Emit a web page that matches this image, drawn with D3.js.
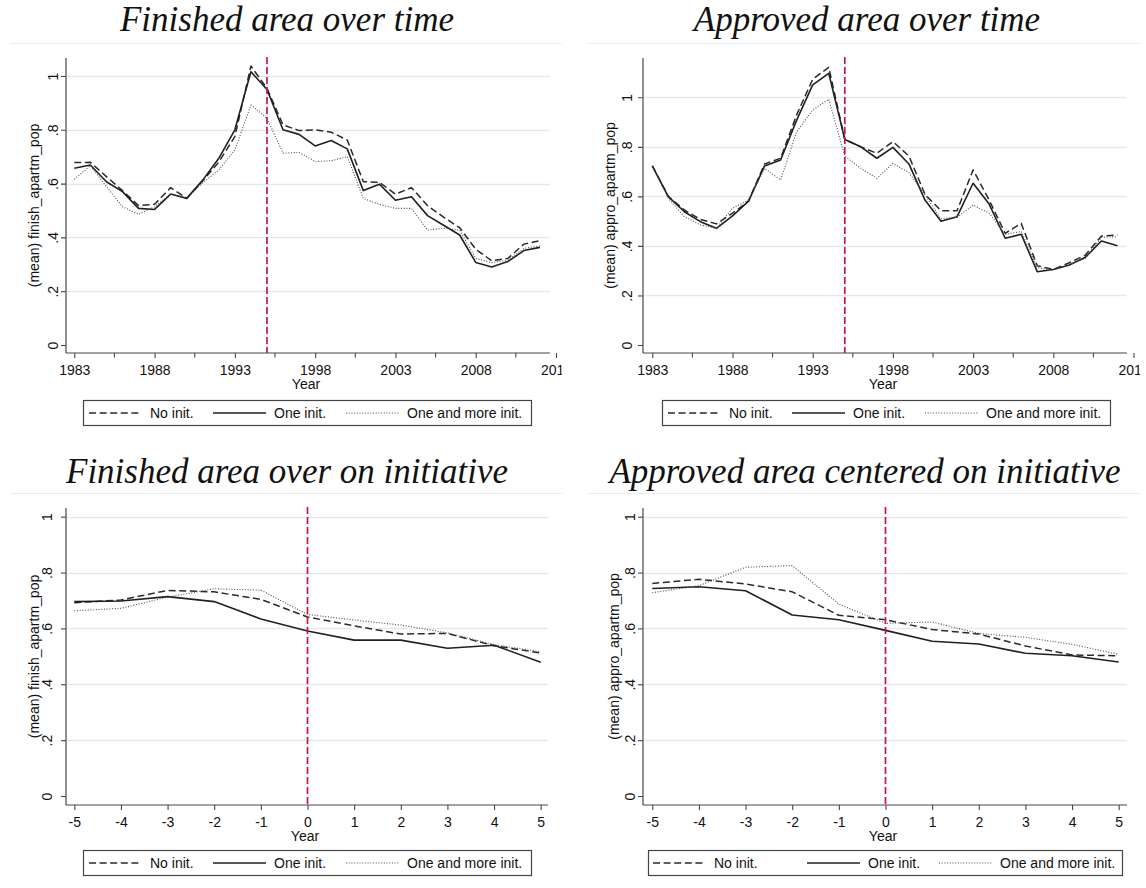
<!DOCTYPE html>
<html>
<head>
<meta charset="utf-8">
<script src="https://cdn.jsdelivr.net/npm/d3@7"></script>
<style>
  body { margin: 0; background: #ffffff; }
  svg { display: block; }
</style>
</head>
<body>
<svg id="fig" width="1146" height="888"></svg>
<script>
// ---- data ---------------------------------------------------------------
const calendarYears = [1983, 1984, 1985, 1986, 1987, 1988, 1989, 1990, 1991, 1992,
                       1993, 1994, 1995, 1996, 1997, 1998, 1999, 2000, 2001, 2002,
                       2003, 2004, 2005, 2006, 2007, 2008, 2009, 2010, 2011, 2012];
const relativeYears = [-5, -4, -3, -2, -1, 0, 1, 2, 3, 4, 5];

const seriesNames = ["No init.", "One init.", "One and more init."];

// Finished apartment area per population, by calendar year
const finishedNoInit   = [0.678, 0.679, 0.626, 0.574, 0.518, 0.523, 0.585, 0.545, 0.611, 0.680,
                          0.775, 1.037, 0.954, 0.818, 0.797, 0.800, 0.791, 0.762, 0.607, 0.605,
                          0.561, 0.585, 0.518, 0.475, 0.436, 0.356, 0.313, 0.322, 0.375, 0.388];
const finishedOneInit  = [0.657, 0.669, 0.607, 0.570, 0.508, 0.504, 0.561, 0.545, 0.613, 0.694,
                          0.800, 1.016, 0.950, 0.800, 0.783, 0.740, 0.760, 0.729, 0.574, 0.598,
                          0.538, 0.551, 0.481, 0.445, 0.409, 0.307, 0.290, 0.310, 0.351, 0.363];
const finishedMoreInit = [0.616, 0.667, 0.589, 0.514, 0.486, 0.514, 0.561, 0.545, 0.603, 0.651,
                          0.725, 0.892, 0.843, 0.713, 0.716, 0.682, 0.685, 0.700, 0.545, 0.523,
                          0.508, 0.508, 0.427, 0.434, 0.427, 0.322, 0.306, 0.316, 0.359, 0.368];

// Approved apartment area per population, by calendar year
const approvedNoInit   = [0.723, 0.600, 0.545, 0.507, 0.489, 0.532, 0.581, 0.731, 0.754, 0.929,
                          1.073, 1.121, 0.830, 0.800, 0.774, 0.821, 0.763, 0.608, 0.542, 0.542,
                          0.707, 0.585, 0.451, 0.491, 0.320, 0.305, 0.332, 0.363, 0.440, 0.444];
const approvedOneInit  = [0.723, 0.599, 0.538, 0.498, 0.471, 0.521, 0.581, 0.723, 0.747, 0.908,
                          1.050, 1.097, 0.830, 0.800, 0.754, 0.798, 0.731, 0.585, 0.500, 0.518,
                          0.653, 0.569, 0.431, 0.447, 0.296, 0.305, 0.323, 0.354, 0.420, 0.401];
const approvedMoreInit = [0.723, 0.592, 0.518, 0.485, 0.471, 0.552, 0.585, 0.713, 0.666, 0.861,
                          0.949, 0.992, 0.763, 0.713, 0.673, 0.733, 0.696, 0.606, 0.509, 0.515,
                          0.565, 0.532, 0.447, 0.458, 0.312, 0.303, 0.323, 0.350, 0.435, 0.437];

// Same measures, in years relative to the initiative
const finishedRelNoInit   = [0.692, 0.702, 0.736, 0.731, 0.704, 0.641, 0.609, 0.580, 0.582, 0.538, 0.512];
const finishedRelOneInit  = [0.696, 0.698, 0.714, 0.696, 0.634, 0.591, 0.558, 0.558, 0.529, 0.540, 0.479];
const finishedRelMoreInit = [0.663, 0.672, 0.712, 0.742, 0.737, 0.650, 0.630, 0.612, 0.584, 0.542, 0.516];
const approvedRelNoInit   = [0.761, 0.776, 0.759, 0.731, 0.647, 0.631, 0.596, 0.580, 0.537, 0.505, 0.502];
const approvedRelOneInit  = [0.743, 0.749, 0.735, 0.648, 0.631, 0.593, 0.554, 0.544, 0.511, 0.502, 0.480];
const approvedRelMoreInit = [0.728, 0.753, 0.819, 0.825, 0.687, 0.618, 0.623, 0.582, 0.568, 0.543, 0.507];

// Axis ticks
const calendarTicks      = [1983, 1988, 1993, 1998, 2003, 2008, 2013];
const calendarTickLabels = ["1983", "1988", "1993", "1998", "2003", "2008", "2013"];
const calendarMinorTicks = [1985.5, 1990.5, 1995.5, 2000.5, 2005.5, 2010.5];
const relativeTicks      = [-5, -4, -3, -2, -1, 0, 1, 2, 3, 4, 5];
const relativeTickLabels = ["-5", "-4", "-3", "-2", "-1", "0", "1", "2", "3", "4", "5"];
const valueTicks         = [0, 0.2, 0.4, 0.6, 0.8, 1];
const valueTickLabels    = ["0", ".2", ".4", ".6", ".8", "1"];

const calendarEvent = 1995;
const relativeEvent = 0;

// ---- styles --------------------------------------------------------------
const SANS = "'Liberation Sans', Arial, sans-serif";
const SERIF = "'Liberation Serif', 'Times New Roman', serif";
const FS = 14;
const seriesStyles = [
  { stroke: "#2a2a2a", width: 1.5, dash: "7,3.6" },
  { stroke: "#202020", width: 1.6, dash: null },
  { stroke: "#4a4a4a", width: 1.1, dash: "1,1.7" }
];
const gridColor = "#e2eaed";
const axisColor = "#474747";
const eventColor = "#c8173f";
const frameColor = "#e6edef";
const textColor = "#111111";

// ---- panel layouts -------------------------------------------------------
const panels = [
  {
    title: "Finished area over time", titleX: 287, titleY: 31,
    xs: calendarYears, series: [finishedNoInit, finishedOneInit, finishedMoreInit],
    yLabel: "(mean) finish_apartm_pop",
    xTicks: calendarTicks, xTickLabels: calendarTickLabels, xMinor: calendarMinorTicks, event: calendarEvent,
    xDom: [1983, 2013], xRange: [74.3, 556], plotL: 66, plotR: 550, plotT: 58, axisY: 353,
    yRange: [345, 76], tickLabDx: 8, yTitleDx: 27,
    frame: { l: 10, r: 563, t: 43, b: 441 },
    legend: { x: 83, y: 400, w: 448, h: 25, cols: [6, 130, 263] }
  },
  {
    title: "Approved area over time", titleX: 867, titleY: 31,
    xs: calendarYears, series: [approvedNoInit, approvedOneInit, approvedMoreInit],
    yLabel: "(mean) appro_apartm_pop",
    xTicks: calendarTicks, xTickLabels: calendarTickLabels, xMinor: calendarMinorTicks, event: calendarEvent,
    xDom: [1983, 2013], xRange: [652.3, 1133.5], plotL: 643, plotR: 1127, plotT: 58, axisY: 353,
    yRange: [345, 97.3], tickLabDx: 11, yTitleDx: 28,
    frame: { l: 588, r: 1141, t: 43, b: 441 },
    legend: { x: 662, y: 400, w: 448, h: 25, cols: [6, 130, 263] }
  },
  {
    title: "Finished area over on initiative", titleX: 287, titleY: 483,
    xs: relativeYears, series: [finishedRelNoInit, finishedRelOneInit, finishedRelMoreInit],
    yLabel: "(mean) finish_apartm_pop",
    xTicks: relativeTicks, xTickLabels: relativeTickLabels, xMinor: [], event: relativeEvent,
    xDom: [-5, 5], xRange: [74.3, 540.7], plotL: 66, plotR: 548, plotT: 508, axisY: 805,
    yRange: [796, 516.7], tickLabDx: 14.5, yTitleDx: 27,
    frame: { l: 10, r: 563, t: 493, b: 888 },
    legend: { x: 83, y: 850, w: 448, h: 25, cols: [6, 130, 263] }
  },
  {
    title: "Approved area centered on initiative", titleX: 865, titleY: 483,
    xs: relativeYears, series: [approvedRelNoInit, approvedRelOneInit, approvedRelMoreInit],
    yLabel: "(mean) appro_apartm_pop",
    xTicks: relativeTicks, xTickLabels: relativeTickLabels, xMinor: [], event: relativeEvent,
    xDom: [-5, 5], xRange: [652.3, 1118.7], plotL: 643, plotR: 1127, plotT: 508, axisY: 805,
    yRange: [796, 516.7], tickLabDx: 8, yTitleDx: 24,
    frame: { l: 588, r: 1142, t: 493, b: 888 },
    legend: { x: 648, y: 850, w: 474, h: 25, cols: [5, 159, 291] }
  }
];

const svg = d3.select("#fig");
svg.append("rect").attr("width", 1146).attr("height", 888).attr("fill", "#fff");
const defs = svg.append("defs");

panels.forEach((p, i) => {
  // Title above each graph
  svg.append("text")
    .attr("x", p.titleX).attr("y", p.titleY)
    .attr("text-anchor", "middle")
    .attr("font-family", SERIF).attr("font-style", "italic")
    .attr("font-size", 35).attr("fill", "#111")
    .text(p.title);

  // each graph is clipped to its own region (the last x label runs past the edge)
  defs.append("clipPath").attr("id", "clip" + i)
    .append("rect")
    .attr("x", p.frame.l).attr("y", p.frame.t)
    .attr("width", p.frame.r - p.frame.l - 1.2).attr("height", p.frame.b - p.frame.t);

  const g = svg.append("g").attr("clip-path", `url(#clip${i})`);

  // light graph-region frame (top and right edges)
  g.append("path")
    .attr("d", `M${p.frame.l},${p.frame.t + 0.5}H${p.frame.r - 0.5}V${p.frame.b}`)
    .attr("fill", "none").attr("stroke", frameColor).attr("stroke-width", 1);

  const x = d3.scaleLinear().domain(p.xDom).range(p.xRange);
  const y = d3.scaleLinear().domain([0, 1]).range(p.yRange);

  // horizontal grid
  g.append("g").selectAll("line")
    .data(valueTicks.filter(v => v > 0))
    .join("line")
    .attr("x1", p.plotL + 1).attr("x2", p.plotR)
    .attr("y1", d => Math.round(y(d)) + 0.5).attr("y2", d => Math.round(y(d)) + 0.5)
    .attr("stroke", gridColor).attr("stroke-width", 1.3);

  // y axis
  const yAxis = d3.axisLeft(y).tickValues(valueTicks)
    .tickFormat((d, k) => valueTickLabels[k]).tickSize(5).tickPadding(0);
  const ya = g.append("g").attr("transform", `translate(${p.plotL},0)`).call(yAxis);
  ya.select(".domain").attr("d", `M0,${p.plotT}V${p.axisY}`)
    .attr("stroke", axisColor).attr("stroke-width", 1.2);
  ya.selectAll(".tick line").attr("stroke", axisColor).attr("stroke-width", 1.1);
  ya.selectAll(".tick text")
    .attr("x", null).attr("dy", null)
    .attr("transform", `translate(${-p.tickLabDx},0) rotate(-90)`)
    .attr("text-anchor", "middle")
    .attr("font-family", SANS).attr("font-size", FS).attr("fill", textColor);

  // x axis
  const xAxis = d3.axisBottom(x).tickValues(p.xTicks)
    .tickFormat((d, k) => p.xTickLabels[k]).tickSize(5).tickPadding(0);
  const xa = g.append("g").attr("transform", `translate(0,${p.axisY})`).call(xAxis);
  xa.select(".domain").attr("d", `M${p.plotL},0H${p.plotR}`)
    .attr("stroke", axisColor).attr("stroke-width", 1.2);
  xa.selectAll(".tick line").attr("stroke", axisColor).attr("stroke-width", 1.1);
  xa.selectAll(".tick text")
    .attr("y", 21.5).attr("dy", null)
    .attr("font-family", SANS).attr("font-size", FS).attr("fill", textColor);
  xa.append("g").selectAll("line").data(p.xMinor).join("line")
    .attr("x1", d => x(d)).attr("x2", d => x(d))
    .attr("y1", 0).attr("y2", 4.5)
    .attr("stroke", axisColor).attr("stroke-width", 1.1);

  // axis titles
  g.append("text")
    .attr("transform", `translate(${p.plotL - p.yTitleDx},${(p.plotT + p.axisY) / 2}) rotate(-90)`)
    .attr("text-anchor", "middle")
    .attr("font-family", SANS).attr("font-size", FS).attr("fill", textColor)
    .text(p.yLabel);
  g.append("text")
    .attr("x", (p.plotL + p.plotR) / 2 - 2).attr("y", p.axisY + 35.5)
    .attr("text-anchor", "middle")
    .attr("font-family", SANS).attr("font-size", FS).attr("fill", textColor)
    .text("Year");

  // series lines
  const line = d3.line().x((d, k) => x(p.xs[k])).y(d => y(d));
  p.series.forEach((vals, s) => {
    const st = seriesStyles[s];
    g.append("path")
      .datum(vals)
      .attr("d", line)
      .attr("fill", "none")
      .attr("stroke", st.stroke)
      .attr("stroke-width", st.width)
      .attr("stroke-dasharray", st.dash)
      .attr("stroke-linejoin", "round");
  });

  // event marker
  g.append("line")
    .attr("x1", x(p.event)).attr("x2", x(p.event))
    .attr("y1", p.plotT - 1).attr("y2", p.axisY)
    .attr("stroke", eventColor).attr("stroke-width", 1.7)
    .attr("stroke-dasharray", "7,3");

  // legend
  const L = p.legend;
  const lg = g.append("g").attr("transform", `translate(${L.x},${L.y})`);
  lg.append("rect")
    .attr("x", 0.5).attr("y", 0.5).attr("width", L.w).attr("height", L.h)
    .attr("fill", "#fff").attr("stroke", "#444").attr("stroke-width", 1.2);
  seriesNames.forEach((name, s) => {
    const st = seriesStyles[s];
    const cx = L.cols[s];
    lg.append("line")
      .attr("x1", cx).attr("x2", cx + 53)
      .attr("y1", L.h / 2 + 0.5).attr("y2", L.h / 2 + 0.5)
      .attr("stroke", st.stroke).attr("stroke-width", st.width)
      .attr("stroke-dasharray", st.dash);
    lg.append("text")
      .attr("x", cx + 61).attr("y", L.h / 2 + 5.5)
      .attr("font-family", SANS).attr("font-size", FS).attr("fill", textColor)
      .text(name);
  });
});
</script>
</body>
</html>
